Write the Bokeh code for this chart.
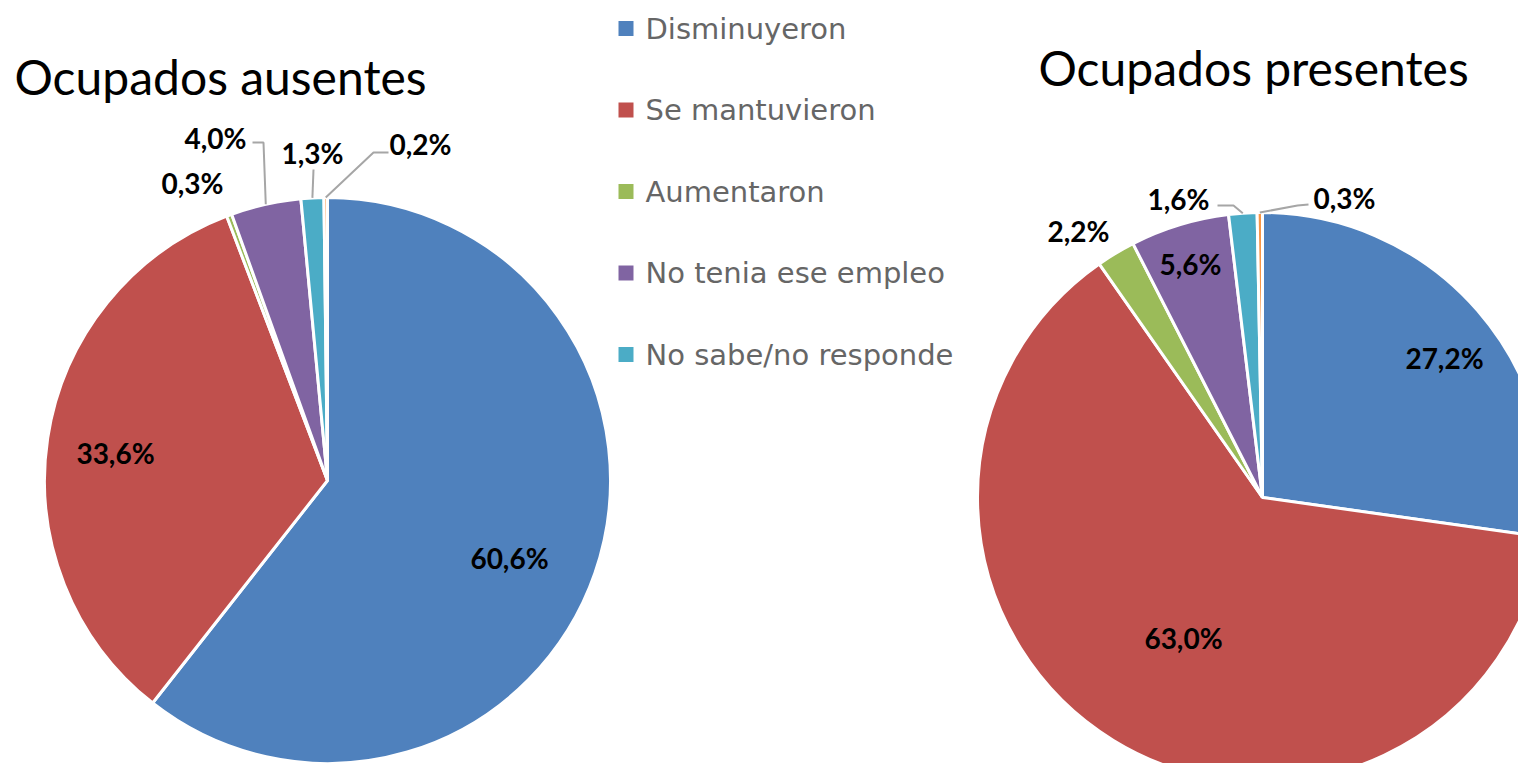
import math
from bokeh.plotting import figure
from bokeh.models import Range1d
from bokeh.core.properties import value
from bokeh.embed import file_html
from bokeh.resources import INLINE

# ---------------- data ----------------
categories = ["Disminuyeron", "Se mantuvieron", "Aumentaron",
              "No tenia ese empleo", "No sabe/no responde", "Otro"]
legend_categories = categories[:5]
ausentes = [60.6, 33.6, 0.3, 4.0, 1.3, 0.2]
presentes = [27.2, 63.0, 2.2, 5.6, 1.6, 0.3]
titles = ["Ocupados ausentes", "Ocupados presentes"]

# ---------------- style / layout ----------------
colors = ["#4F81BD", "#C0504D", "#9BBB59", "#8064A2", "#4BACC6", "#F79646"]
PAGE_H = 779
W, H = 1518, 763


def py(y):
    # image pixel row -> data y (y axis pointing up)
    return PAGE_H - y


pies = [
    dict(values=ausentes, title=titles[0], cx=327, cy=480, r=283,
         title_x=14, title_y=76, title_size="48px",
         # label centre offsets from pie centre (px, y down)
         label_off=[(182, 77), (-212, -28), (-135, -298), (-112, -343), (-15, -328), (93, -337)],
         # leader elbow points (px offsets from pie centre), None = no leader
         leaders=[None, None, None,
                  [(-75, -338), (-64, -338)],
                  [(-14, -311)],
                  [(61, -328), (46, -328)]]),
    dict(values=presentes, title=titles[1], cx=1262, cy=497, r=285,
         title_x=1038, title_y=67, title_size="48px",
         label_off=[(182, -140), (-79, 140), (-184, -267), (-72, -234), (-84, -299), (82, -300)],
         leaders=[None, None, None, None,
                  [(-45, -292), (-29, -292)],
                  [(46, -293), (35, -292)]]),
]

p = figure(width=W, height=H, x_range=Range1d(0, W), y_range=Range1d(PAGE_H - H, PAGE_H),
           output_backend="svg", toolbar_location=None, x_axis_type=None, y_axis_type=None,
           min_border=0, min_border_left=0, min_border_right=0, min_border_top=0, min_border_bottom=0)
p.grid.visible = False
p.outline_line_color = None
p.background_fill_color = "white"
p.border_fill_color = "white"

for pie in pies:
    vals = pie["values"]
    total = sum(vals)
    cx, cy, r = pie["cx"], py(pie["cy"]), pie["r"]
    cum = 0.0
    starts, ends, mids = [], [], []
    for v in vals:
        a0 = math.pi / 2 - 2 * math.pi * cum / total
        cum += v
        a1 = math.pi / 2 - 2 * math.pi * cum / total
        starts.append(a0)
        ends.append(a1)
        mids.append((a0 + a1) / 2)
    p.wedge(x=[cx] * len(vals), y=[cy] * len(vals), radius=r,
            start_angle=starts, end_angle=ends, direction="clock",
            fill_color=colors[:len(vals)], line_color="white", line_width=3)

    # leader lines
    xs, ys = [], []
    for i, ld in enumerate(pie["leaders"]):
        if ld is None:
            continue
        lx = [cx + dx for dx, dy in ld] + [cx + r * math.cos(mids[i])]
        ly = [cy - dy for dx, dy in ld] + [cy + r * math.sin(mids[i])]
        xs.append(lx)
        ys.append(ly)
    if xs:
        p.multi_line(xs=xs, ys=ys, line_color="#A6A6A6", line_width=2)

    labels = [("%.1f" % v).replace(".", ",") + "%" for v in vals]
    lx = [cx + dx for dx, dy in pie["label_off"]]
    ly = [cy - dy for dx, dy in pie["label_off"]]
    p.text(x=lx, y=ly, text=labels, text_font=value("Lato"),
           text_font_size="28px", text_font_style="bold", text_color="black",
           text_align="center", text_baseline="middle")

    p.text(x=[pie["title_x"]], y=[py(pie["title_y"])], text=[pie["title"]],
           text_font=value("Lato"), text_font_size=pie["title_size"], text_color="black",
           text_align="left", text_baseline="alphabetic")

# legend
leg_y = [28 + 81.5 * i for i in range(len(legend_categories))]
p.rect(x=[625.5] * len(legend_categories), y=[py(v) for v in leg_y], width=15, height=15,
       fill_color=colors[:len(legend_categories)], line_color=None)
p.text(x=[645] * len(legend_categories), y=[py(v) for v in leg_y], text=legend_categories,
       text_font=value("DejaVu Sans"), text_font_size="29px", text_color="#666666",
       text_align="left", text_baseline="middle")

open("out.html", "w").write(file_html(p, INLINE))
